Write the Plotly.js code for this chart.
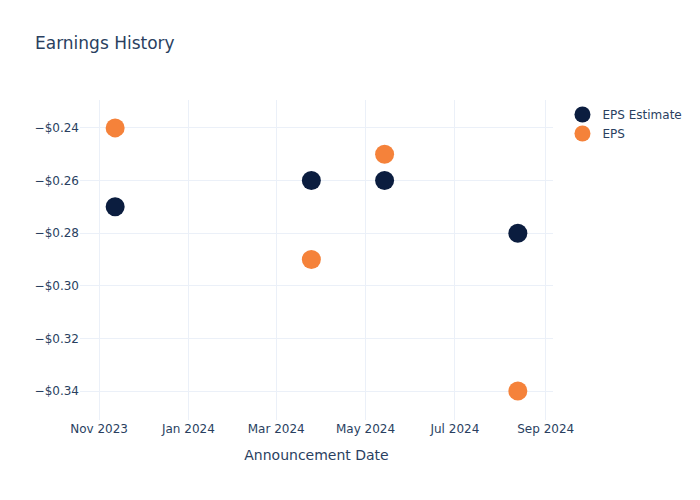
<!DOCTYPE html>
<html>
<head>
<meta charset="utf-8">
<script src="https://cdn.plot.ly/plotly-3.0.1.min.js"></script>
<style>html,body{margin:0;padding:0;background:#fff;}</style>
</head>
<body>
<div id="chart" style="width:700px;height:500px;"></div>
<script>
const dates = ["2023-11-12", "2024-03-25", "2024-05-14", "2024-08-13"];
const epsEstimate = [-0.27, -0.26, -0.26, -0.28];
const epsActual = [-0.24, -0.29, -0.25, -0.34];

const traces = [
  {
    x: dates, y: epsEstimate, name: "EPS Estimate", type: "scatter", mode: "markers",
    marker: {color: "#0B1D3F", size: 19}
  },
  {
    x: dates, y: epsActual, name: "EPS", type: "scatter", mode: "markers",
    marker: {color: "#F5823A", size: 19}
  }
];

const layout = {
  width: 700, height: 500,
  paper_bgcolor: "#fff", plot_bgcolor: "#fff",
  font: {family: "'DejaVu Sans', sans-serif", color: "#2a3f5f", size: 12},
  title: {text: "Earnings History", x: 0.05, xanchor: "left", y: 0.925, font: {size: 17}},
  margin: {l: 80, r: 147, t: 100, b: 80},
  xaxis: {
    type: "date",
    range: ["2023-10-19", "2024-09-06"],
    title: {text: "Announcement Date", font: {size: 14}, standoff: 15},
    gridcolor: "#EBF0F8", zeroline: false, showline: false,
    dtick: "M2", tick0: "2023-11-01", tickformat: "%b %Y"
  },
  yaxis: {
    range: [-0.351, -0.2294],
    tickformat: "$.2f", dtick: 0.02, tick0: -0.24,
    gridcolor: "#EBF0F8", zeroline: false, showline: false
  },
  legend: {x: 1.02, y: 1, font: {size: 12}},
  showlegend: true
};

Plotly.newPlot("chart", traces, layout, {displayModeBar: false});
</script>
</body>
</html>
